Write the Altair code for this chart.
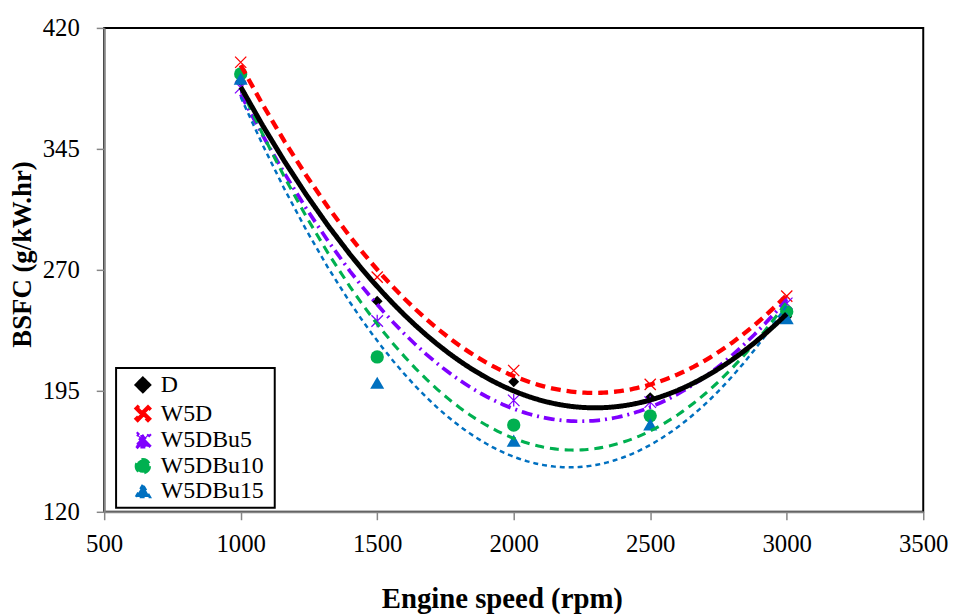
import math
import altair as alt
import pandas as pd

# ---- data ----
speed = [1000, 1500, 2000, 2500, 3000]
series_names = ["D", "W5D", "W5DBu5", "W5DBu10", "W5DBu15"]
bsfc_D = [387.0, 250.6, 200.6, 190.8, 241.0]
bsfc_W5D = [398.7, 265.5, 207.6, 199.0, 253.7]
bsfc_W5DBu5 = [383.0, 238.3, 189.1, 188.0, 249.2]
bsfc_W5DBu10 = [391.5, 216.0, 173.8, 179.5, 244.0]
bsfc_W5DBu15 = [388.5, 200.0, 164.1, 174.2, 240.0]

x_ticks = [500, 1000, 1500, 2000, 2500, 3000, 3500]
y_ticks = [120, 195, 270, 345, 420]

colors = ["#000000", "#FF0000", "#7F00FF", "#00B050", "#0070C0"]
dashes = [[1, 0], [10, 6], [11, 5, 2, 5], [9, 6], [5, 4]]
widths = [5, 2.5, 2.5, 2.5, 2.5]
sizes = [120, 200, 170, 220, 230]

rows = []
for name, vals in zip(series_names, [bsfc_D, bsfc_W5D, bsfc_W5DBu5, bsfc_W5DBu10, bsfc_W5DBu15]):
    for s, v in zip(speed, vals):
        rows.append({"speed": s, "bsfc": v, "series": name})
df = pd.DataFrame(rows)


def bar(theta_deg, L, w):
    t = math.radians(theta_deg)
    dx, dy = math.cos(t) * L, math.sin(t) * L
    nx, ny = -math.sin(t) * w, math.cos(t) * w
    pts = [(dx + nx, dy + ny), (dx - nx, dy - ny), (-dx - nx, -dy - ny), (-dx + nx, -dy + ny)]
    return "M" + "L".join(f"{x:.3f},{y:.3f}" for x, y in pts) + "Z"


x_shape = bar(45, 1.35, 0.11) + bar(135, 1.35, 0.11)
star_shape = bar(90, 1.0, 0.1) + bar(45, 1.3, 0.1) + bar(135, 1.3, 0.1)
shapes = ["diamond", x_shape, star_shape, "circle", "triangle-up"]

FONT = "Liberation Serif, Times New Roman, DejaVu Serif, serif"

xscale = alt.Scale(domain=[500, 3500], nice=False, zero=False)
yscale = alt.Scale(domain=[120, 420], nice=False, zero=False)

xaxis = alt.Axis(values=x_ticks, title="Engine speed (rpm)", grid=False, tickSize=8, format="d",
                 labelPadding=12, titleX=401, titleY=96.5, titleBaseline="alphabetic",
                 titleAlign="center", labelFlush=False)
yaxis = alt.Axis(values=y_ticks, title="BSFC (g/kW.hr)", grid=False, tickSize=8, format="d",
                 labelPadding=17, titleX=-74.5, titleY=228, titleBaseline="alphabetic",
                 titleAlign="center", titleAngle=270)

legend = alt.Legend(title=None, orient="none", legendX=12, legendY=343,
                    fillColor="white", strokeColor="black", padding=5,
                    symbolOffset=10, labelOffset=6, rowPadding=-2,
                    labelFont=FONT, labelFontSize=24, labelColor="black",
                    symbolSize=150, symbolStrokeWidth=0,
                    labelExpr="datum.label + '\u00a0\u200b'")

base = alt.Chart(df)

points = base.mark_point(filled=True, opacity=1, strokeWidth=0).encode(
    x=alt.X("speed:Q", scale=xscale, axis=xaxis),
    y=alt.Y("bsfc:Q", scale=yscale, axis=yaxis),
    color=alt.Color("series:N", scale=alt.Scale(domain=series_names, range=colors), legend=legend),
    shape=alt.Shape("series:N", scale=alt.Scale(domain=series_names, range=shapes), legend=legend),
    size=alt.Size("series:N", scale=alt.Scale(domain=series_names, range=sizes), legend=None),
)


def trend(filter_expr):
    return base.transform_filter(filter_expr).transform_regression(
        "speed", "bsfc", groupby=["series"], method="poly", order=2
    ).mark_line().encode(
        x=alt.X("speed:Q", scale=xscale),
        y=alt.Y("bsfc:Q", scale=yscale),
        color=alt.Color("series:N", scale=alt.Scale(domain=series_names, range=colors), legend=None),
        strokeDash=alt.StrokeDash("series:N", scale=alt.Scale(domain=series_names, range=dashes), legend=None),
        strokeWidth=alt.StrokeWidth("series:N", scale=alt.Scale(domain=series_names, range=widths), legend=None),
    )


lines_other = trend("datum.series != 'D'")
line_D = trend("datum.series == 'D'")

chart = alt.layer(points, lines_other, line_D).properties(
    width=826, height=488,
    autosize=alt.AutoSizeParams(type="none"),
    padding={"left": 97, "top": 17.5, "right": 29, "bottom": 102.5},
).configure_view(
    stroke="black", strokeWidth=2
).configure_axis(
    labelFont=FONT, labelFontSize=25, labelColor="black",
    titleFont=FONT, titleFontSize=27, titleFontWeight="bold", titleColor="black",
    domainColor="#868686", domainWidth=2, tickColor="#868686", tickWidth=1.5,
).configure_axisX(titleFontSize=29).configure_legend(strokeWidth=2)

chart.save("out.html", embed_options={"renderer": "svg", "actions": False})
